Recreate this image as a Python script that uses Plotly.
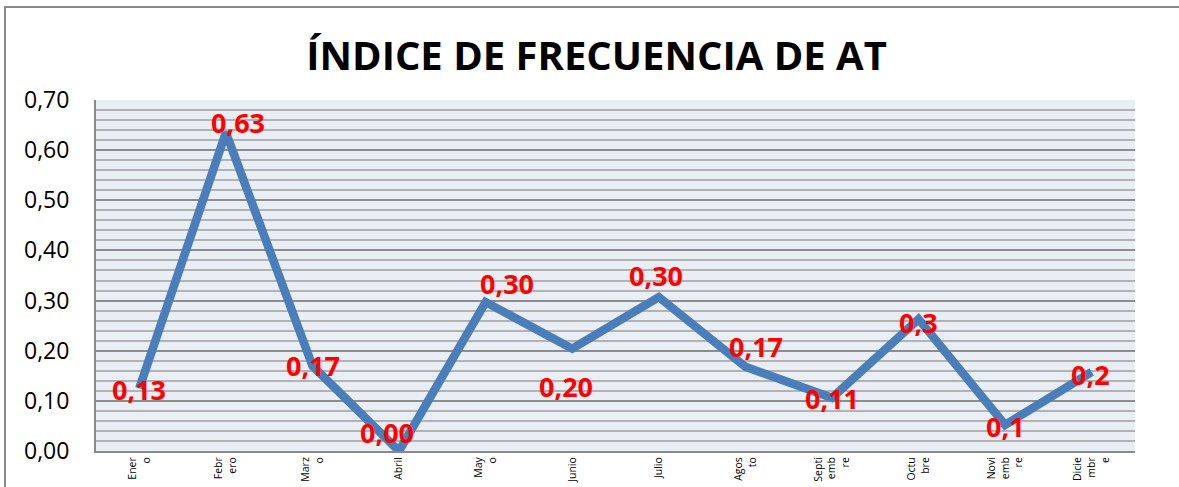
import plotly.graph_objects as go

# ---- data ----
months = ["Enero", "Febrero", "Marzo", "Abril", "Mayo", "Junio", "Julio",
          "Agosto", "Septiembre", "Octubre", "Noviembre", "Diciembre"]
tick_text = ["Ener<br>o", "Febr<br>ero", "Marz<br>o", "Abril", "May<br>o", "Junio",
             "Julio", "Agos<br>to", "Septi<br>emb<br>re", "Octu<br>bre",
             "Novi<br>emb<br>re", "Dicie<br>mbr<br>e"]
values = [0.125, 0.635, 0.17, 0.00, 0.297, 0.204, 0.307, 0.168, 0.106, 0.263, 0.052, 0.158]
labels = ["0,13", "0,63", "0,17", "0,00", "0,30", "0,20", "0,30", "0,17", "0,11", "0,3", "0,1", "0,2"]

# label offsets (pixels) -- style only
label_dx = [0, 12, 1, -12, 21, -6, -3, 11, 0, 0, 0, -1]
label_dy = [-1, 10, 0, 19, 19, -38, 22, 20, -1, -3, -2, -3]

fig = go.Figure()
fig.add_trace(go.Scatter(
    x=months, y=values, mode="lines",
    line=dict(color="#4A7EBB", width=8.5),
    hoverinfo="skip", showlegend=False,
))

for m, v, t, dx, dy in zip(months, values, labels, label_dx, label_dy):
    fig.add_annotation(x=m, y=v, xref="x", yref="y", text=t, showarrow=False,
                       xshift=dx, yshift=dy,
                       font=dict(family="Open Sans", size=27, color="#FF0000", weight="bold"))

# outer chart frame
fig.add_shape(type="rect", xref="paper", yref="paper",
              x0=-0.0876, y0=-0.3, x1=1.2, y1=1.265,
              line=dict(color="#8A8A8A", width=2), layer="below")

fig.update_layout(
    width=1179, height=487,
    margin=dict(l=96, r=44, t=100, b=36),
    paper_bgcolor="white",
    plot_bgcolor="#E9EDF4",
    separators=",.",
    title=dict(text="<b>ÍNDICE DE FRECUENCIA DE AT</b>", x=0.506, xanchor="center",
               y=0.885, yanchor="middle",
               font=dict(family="Open Sans", size=40, color="black")),
    font=dict(family="Open Sans", color="black"),
)

fig.update_xaxes(
    categoryorder="array", categoryarray=months,
    tickvals=months, ticktext=tick_text, tickangle=-90,
    tickfont=dict(size=10.5, color="black"),
    range=[-0.5, 11.5], showgrid=False,
    showline=True, linecolor="#8A8A8A", linewidth=2,
    ticks="", fixedrange=True, automargin=False,
)
fig.update_yaxes(
    range=[0, 0.7], tickvals=[0, 0.1, 0.2, 0.3, 0.4, 0.5, 0.6, 0.7],
    tickformat=".2f", tickfont=dict(size=23, color="black"),
    ticklabelstandoff=20, automargin=False,
    showgrid=True, gridcolor="#8C8C8C", gridwidth=2,
    minor=dict(dtick=0.02, showgrid=True, gridcolor="#B2B2B2", gridwidth=2),
    showline=True, linecolor="#8A8A8A", linewidth=2,
    zeroline=False, ticks="", fixedrange=True,
)

fig.write_html("out.html", config={"displayModeBar": False},
               post_script="document.body.style.margin='0';document.body.style.overflow='hidden';")
